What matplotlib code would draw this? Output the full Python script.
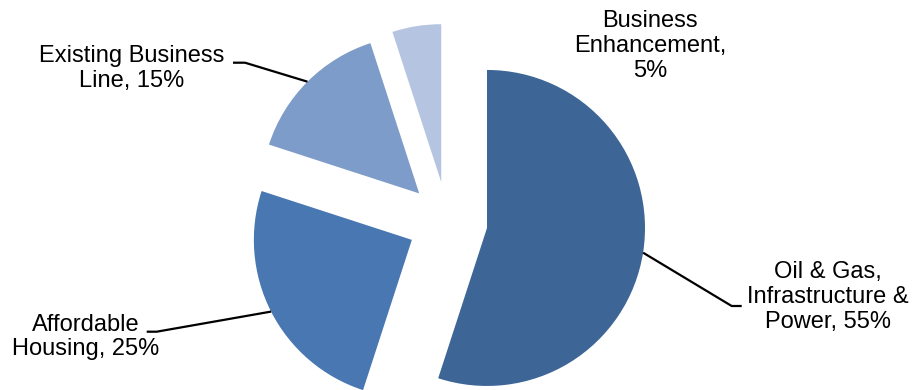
import numpy as np
import matplotlib
matplotlib.use('Agg')
import matplotlib.pyplot as plt

plt.rcParams['font.family'] = ['Liberation Sans', 'DejaVu Sans']

# funding split
labels = ['Oil & Gas,\nInfrastructure &\nPower, 55%',
          'Affordable\nHousing, 25%',
          'Existing Business\nLine, 15%',
          'Business\nEnhancement,\n5%']
shares = [55, 25, 15, 5]
colors = ['#3D6596', '#4877B1', '#7E9CC9', '#B5C5E1']

W, H = 913, 390
cx, cy, R = 447.5, 221.7, 158.0   # pie centre / radius in pixels

def px(x, y):
    # pixel position (origin top-left) -> pie units
    return (x - cx) / R, (cy - y) / R

# label text positions and leader elbows (pixels), None = no leader
label_pos = [(828, 297), (86, 337), (132, 68.5), (650, 46)]
leaders = [[(731.7, 306), (741.7, 306)],
           [(156.7, 331.7), (146.7, 331.7)],
           [(245, 62.7), (233, 62.7)],
           None]

fig = plt.figure(figsize=(W / 100, H / 100), dpi=100)
ax = fig.add_axes([0, 0, 1, 1])

wedges, _ = ax.pie(shares, explode=[40 / R] * 4, startangle=90, counterclock=False,
                   radius=1, center=(0, 0), colors=colors,
                   wedgeprops=dict(linewidth=0))

for w, lab, pos, ld in zip(wedges, labels, label_pos, leaders):
    tx, ty = px(*pos)
    ax.text(tx, ty, lab, ha='center', va='center', fontsize=17,
            multialignment='center', linespacing=1.16)
    if ld is None:
        continue
    tm = np.deg2rad((w.theta1 + w.theta2) / 2)
    x0 = w.center[0] + w.r * np.cos(tm)
    y0 = w.center[1] + w.r * np.sin(tm)
    pts = [px(*p) for p in ld]
    xs = [x0] + [p[0] for p in pts]
    ys = [y0] + [p[1] for p in pts]
    ax.plot(xs, ys, color='black', lw=1.6, solid_capstyle='butt')

ax.set_xlim(-cx / R, (W - cx) / R)
ax.set_ylim((cy - H) / R, cy / R)
ax.set_aspect('auto')
ax.axis('off')

fig.savefig('out.png', dpi=100)
